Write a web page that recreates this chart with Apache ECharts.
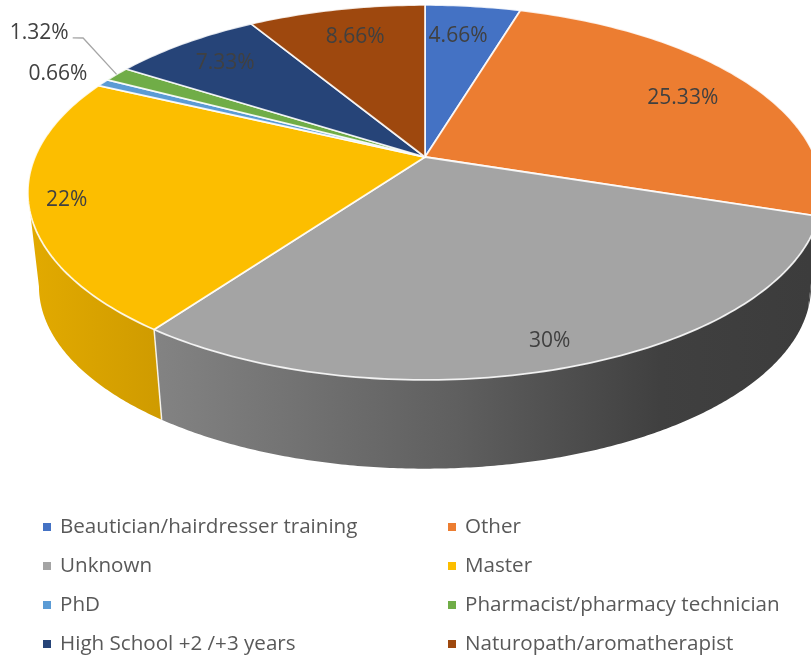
<!DOCTYPE html>
<html>
<head>
<meta charset="utf-8">
<style>html,body{margin:0;padding:0;background:#fff}#c{width:811px;height:656px}</style>
<script src="https://cdn.jsdelivr.net/npm/echarts@6/dist/echarts.min.js"></script>
</head>
<body>
<div id="c"></div>
<script>
const categories = ['Beautician/hairdresser training','Other','Unknown','Master','PhD','Pharmacist/pharmacy technician','High School +2 /+3 years','Naturopath/aromatherapist'];
const values = [4.66,25.33,30,22,0.66,1.32,7.33,8.66];
const colors = ['#4472c4','#ec7d31','#a4a4a4','#fcbe00','#5b9bd5','#70ad47','#264478','#9e480e'];
const labelRadius = [0.786,0.79,0.887,0.91,1.157,1.395,0.817,0.794];
const labelNudgeDeg = [-1.5,0.5,0.5,0.2,0,5,0,0.4];
const legendLeft = [categories[0],categories[2],categories[4],categories[6]];
const legendRight = [categories[1],categories[3],categories[5],categories[7]];

// projective view of the pie disc
const view = {cx:425, cy:157, b:390, a:180.8, k:0.189, shrink:0.972, bottomCy:286, ellipseCy:192};
const total = values.reduce((s,v)=>s+v,0);
const startAngle = [];
values.reduce((s,v,i)=>{startAngle[i]=s/total*360;return s+v;},0);
const rad = d=>d*Math.PI/180;
function project(deg,r){
  const x=r*Math.sin(rad(deg)), y=-r*Math.cos(rad(deg)), w=1-view.k*y;
  return [view.cx+view.b*x/w, view.cy+view.a*y/w];
}
function lower(p){
  return [view.cx+view.shrink*(p[0]-view.cx), view.bottomCy+view.shrink*(p[1]-view.ellipseCy)];
}
const wallFrom = 90+Math.asin(view.k)*180/Math.PI, wallTo = 270-Math.asin(view.k)*180/Math.PI;
const wallStops = {
  1:[[0,'#3c3c3c'],[1,'#3c3c3c']],
  2:[[0,'#838383'],[0.46,'#5f5f5f'],[0.77,'#404040'],[1,'#3c3c3c']],
  3:[[0,'#e2aa00'],[1,'#cf9b00']]
};
const wallExtent = {1:[780,830],2:[155,811],3:[30,160]};
const rim = 'rgba(255,255,255,0.85)';

function renderSlice(i,api){
  const kids=[];
  const a0=startAngle[i], a1=a0+api.value(0)/total*360, mid=(a0+a1)/2;
  const n=Math.max(2,Math.ceil((a1-a0)/1));
  // wall
  const w0=Math.max(a0,wallFrom), w1=Math.min(a1,wallTo);
  if(w1>w0){
    const top=[],bot=[],m=Math.ceil(w1-w0)*2;
    for(let j=0;j<=m;j++){
      const p=project(w0+(w1-w0)*j/m,1);top.push(p);bot.push(lower(p));
    }
    const ex=wallExtent[i]||[0,811];
    kids.push({type:'polygon',shape:{points:top.concat(bot.reverse())},
      style:{fill:new echarts.graphic.LinearGradient(ex[0],0,ex[1],0,
        wallStops[i].map(s=>({offset:s[0],color:s[1]})),true)}});
    if(a0>180){
      const p=project(a0,1);
      kids.push({type:'line',shape:{x1:p[0],y1:p[1],x2:lower(p)[0],y2:lower(p)[1]},
        style:{stroke:rim,lineWidth:1.5}});
    }
  }
  // top face
  const pts=[project(0,0)];
  for(let j=0;j<=n;j++) pts.push(project(a0+(a1-a0)*j/n,1));
  kids.push({type:'polygon',shape:{points:pts},
    style:{fill:colors[i],stroke:rim,lineWidth:1.8,lineJoin:'round'}});
  // leader for the small outside label
  if(i===5){
    const e=project(mid,1), el=project(306.9,1.252), st=project(306.1,1.277);
    kids.push({type:'polyline',shape:{points:[st,el,e]},style:{stroke:'#a6a6a6',lineWidth:1.3,fill:null}});
  }
  const lp=project(mid+labelNudgeDeg[i],labelRadius[i]);
  kids.push({type:'text',x:lp[0]+1,y:lp[1]+1.5,
    style:{text:api.value(0)+'%',align:'center',verticalAlign:'middle',fill:'#404040',
      font:'21px "Open Sans"'}});
  return {type:'group',children:kids};
}

const series = categories.map((name,i)=>({
  type:'custom',name,coordinateSystem:'none',silent:true,animation:false,
  itemStyle:{color:colors[i]},
  data:[[values[i]]],
  renderItem:(params,api)=>renderSlice(i,api)
}));
const legendBase = {orient:'vertical',icon:'rect',itemWidth:8,itemHeight:8,itemGap:17,top:516,padding:0,
  selectedMode:false,
  textStyle:{color:'#595959',fontFamily:'Open Sans',fontSize:20.6,lineHeight:22,padding:[0,0,0,4]}};
const chart = echarts.init(document.getElementById('c'),null,{renderer:'canvas'});
chart.setOption({
  animation:false,backgroundColor:'#fff',
  legend:[
    Object.assign({},legendBase,{left:43,data:legendLeft}),
    Object.assign({},legendBase,{left:448,data:legendRight})
  ],
  series
});
</script>
</body>
</html>
